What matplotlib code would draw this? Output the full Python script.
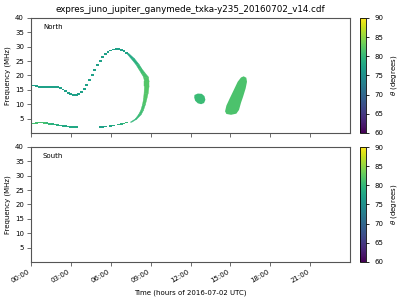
import matplotlib
matplotlib.use("Agg")
import matplotlib.pyplot as plt
import numpy as np
from matplotlib import cm, colors

title = "expres_juno_jupiter_ganymede_txka-y235_20160702_v14.cdf"
xtick_hours = [0, 3, 6, 9, 12, 15, 18, 21]
xtick_labels = ["00:00", "03:00", "06:00", "09:00", "12:00", "15:00", "18:00", "21:00"]
yticks = [5, 10, 15, 20, 25, 30, 35, 40]
cbar_ticks = [60, 65, 70, 75, 80, 85, 90]

# upper thin branch (hours, MHz, theta)
up_t = [0.0, 0.2, 0.4, 0.6, 0.8, 1.0, 1.2, 1.4, 1.6, 1.8, 2.0, 2.2, 2.4, 2.6, 2.8, 3.0, 3.2, 3.4,
        3.6, 3.8, 4.0, 4.2, 4.4, 4.6, 4.8, 5.0, 5.2, 5.4, 5.6, 5.8, 6.0, 6.2, 6.4, 6.6, 6.8, 7.0, 7.2]
up_f = [17.0, 16.5, 16.2, 16.0, 16.0, 16.0, 16.0, 16.0, 16.0, 16.0, 15.9, 15.6, 15.1, 14.5, 14.0, 13.5, 13.2, 13.2,
        13.5, 14.2, 15.3, 16.7, 18.3, 20.1, 21.9, 23.6, 25.1, 26.4, 27.4, 28.2, 28.7, 29.0, 29.2, 29.1, 28.8, 28.4, 27.9]
up_th = [77.0] * 37

# lower thin branch
lo_t = [0.0, 0.2, 0.4, 0.6, 0.8, 1.0, 1.2, 1.4, 1.6, 1.8, 2.0, 2.2, 2.4, 2.6, 2.8, 3.0, 3.2, 3.4,
        5.2, 5.4, 5.6, 6.0, 6.2, 6.6, 6.8, 7.0, 7.2]
lo_f = [3.1, 3.3, 3.5, 3.6, 3.6, 3.5, 3.4, 3.2, 3.0, 2.9, 2.8, 2.6, 2.5, 2.3, 2.2, 2.1, 2.1, 2.0,
        2.1, 2.1, 2.2, 2.5, 2.6, 2.9, 3.1, 3.3, 3.6]
lo_th = [80, 81, 81, 81, 81, 81, 80, 80, 79, 79, 79, 78, 78, 78, 78, 78, 78, 78,
         77, 77, 77, 78, 78, 79, 79, 80, 80]

# thick band on the dawn arc (freq, inner time, outer time, theta)
band_f = [27.9, 26.0, 24.0, 22.5, 21.0, 19.6, 18.0, 16.5, 14.0, 12.0, 10.0, 8.0, 6.5, 5.0, 3.9]
band_t0 = [7.15, 7.5, 7.85, 8.05, 8.25, 8.43, 8.5, 8.5, 8.47, 8.43, 8.35, 8.22, 8.05, 7.8, 7.43]
band_t1 = [7.3, 7.75, 8.1, 8.3, 8.55, 8.8, 8.85, 8.85, 8.78, 8.68, 8.57, 8.42, 8.25, 7.93, 7.55]
band_th = [77.5, 78.5, 79.5, 80.5, 81, 81.5, 82, 82, 82, 82, 81.5, 81, 80.5, 80, 79.5]

# isolated blobs (outline hours, MHz, theta)
blob1_t = [12.3, 12.55, 12.85, 13.05, 13.12, 13.02, 12.8, 12.55, 12.35, 12.28]
blob1_f = [13.2, 13.7, 13.6, 12.8, 11.5, 10.4, 10.0, 10.3, 11.2, 12.3]
blob1_th = 80.5
blob2_t = [16.0, 16.2, 16.25, 16.15, 15.95, 15.8, 15.65, 15.45, 15.05, 14.7, 14.6, 14.7, 14.95, 15.2, 15.55, 15.8]
blob2_f = [19.7, 19.2, 17.8, 15.5, 12.5, 10.5, 8.0, 6.7, 6.3, 6.6, 7.5, 9.5, 12.0, 14.4, 17.8, 19.3]
blob2_th = 81.5

cmap = plt.get_cmap("viridis")
norm = colors.Normalize(vmin=60, vmax=90)

fig = plt.figure(figsize=(4, 3), dpi=100)
ax1 = fig.add_axes([0.0775, 0.557, 0.7975, 0.383])
ax2 = fig.add_axes([0.0775, 0.127, 0.7975, 0.383])
cax1 = fig.add_axes([0.9, 0.557, 0.016, 0.383])
cax2 = fig.add_axes([0.9, 0.127, 0.016, 0.383])

FS = 5
for ax, name in [(ax1, "North"), (ax2, "South")]:
    ax.set_xlim(0, 24)
    ax.set_ylim(0, 40)
    ax.set_yticks(yticks)
    ax.set_xticks(xtick_hours)
    ax.tick_params(labelsize=FS, length=3, width=0.6, color="#555555", pad=2)
    for s in ax.spines.values():
        s.set_color("#555555")
        s.set_linewidth(0.8)
    ax.set_ylabel("Frequency (MHz)", fontsize=FS, labelpad=3)
    ax.text(0.0375, 0.9, name, transform=ax.transAxes, fontsize=FS)

ax1.set_xticklabels([])
ax2.set_xticklabels(xtick_labels, rotation=30, ha="right")
ax2.set_xlabel("Time (hours of 2016-07-02 UTC)", fontsize=FS)
ax1.set_title(title, fontsize=6.3, pad=4)

rect = [(-1.6, -1.0), (1.6, -1.0), (1.6, 1.0), (-1.6, 1.0), (-1.6, -1.0)]
ax1.scatter(up_t, up_f, c=up_th, cmap=cmap, norm=norm, marker=rect, s=4, linewidths=0)
ax1.scatter(lo_t, lo_f, c=lo_th, cmap=cmap, norm=norm, marker=rect, s=4, linewidths=0)

for i in range(len(band_f) - 1):
    th = 0.5 * (band_th[i] + band_th[i + 1])
    ax1.fill_betweenx([band_f[i], band_f[i + 1]], [band_t0[i], band_t0[i + 1]],
                      [band_t1[i], band_t1[i + 1]], color=cmap(norm(th)), linewidth=0.3,
                      edgecolor=cmap(norm(th)))

ax1.fill(blob1_t, blob1_f, color=cmap(norm(blob1_th)), linewidth=0)
ax1.fill(blob2_t, blob2_f, color=cmap(norm(blob2_th)), linewidth=0)

sm = cm.ScalarMappable(norm=norm, cmap=cmap)
for cax in (cax1, cax2):
    cb = fig.colorbar(sm, cax=cax, ticks=cbar_ticks)
    cb.ax.tick_params(labelsize=FS, length=2, width=0.6)
    cb.outline.set_linewidth(0.6)
    cb.set_label(r"$\theta$ (degrees)", fontsize=FS)

fig.savefig("out.png", dpi=100)
